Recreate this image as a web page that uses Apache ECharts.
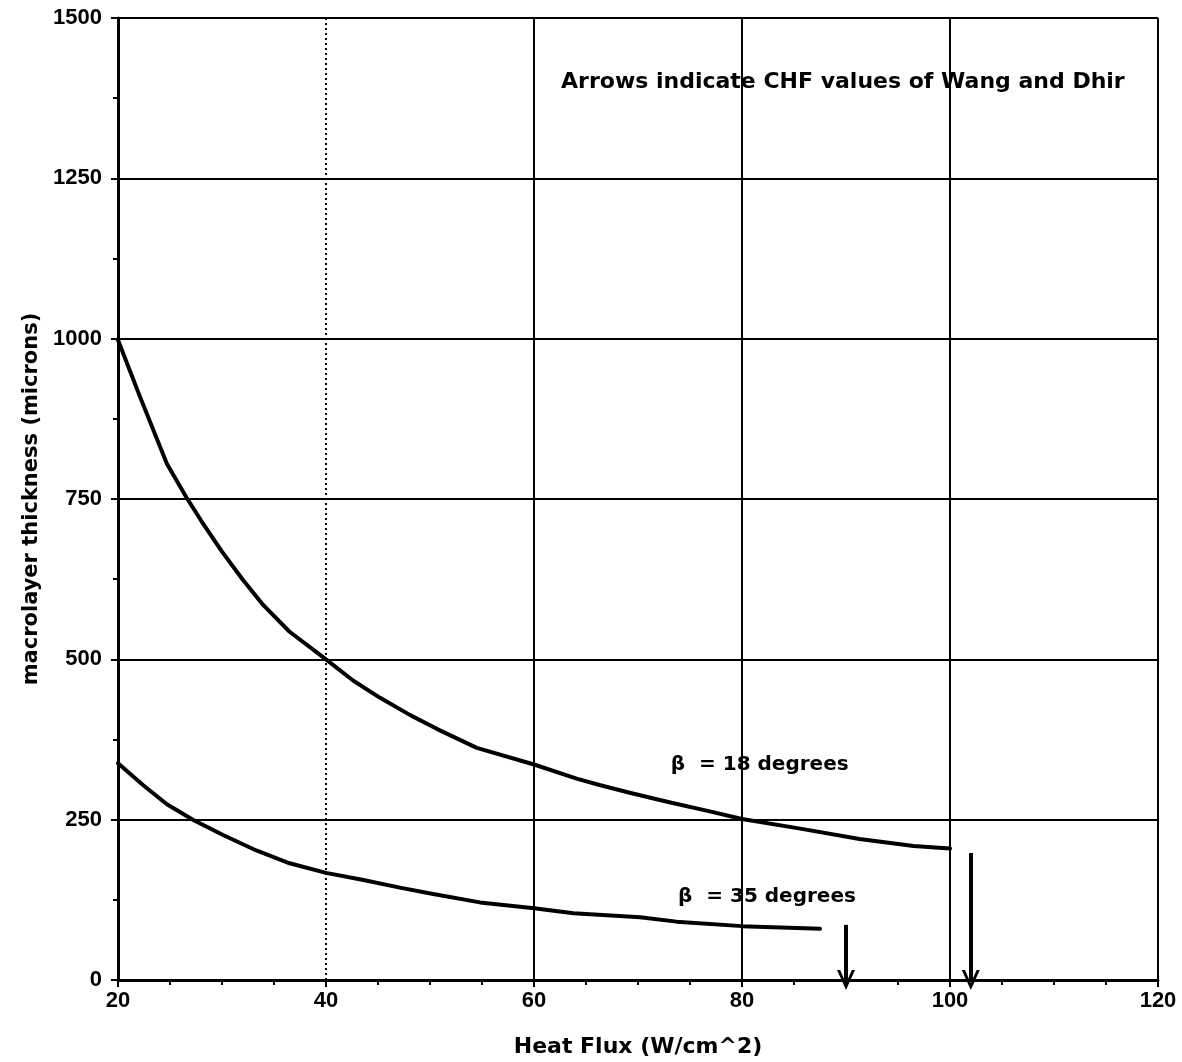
<!DOCTYPE html>
<html>
<head>
<meta charset="utf-8">
<script src="https://cdn.jsdelivr.net/npm/echarts@6/dist/echarts.min.js"></script>
<style>
html,body{margin:0;padding:0;background:#fff;}
#chart{width:1182px;height:1062px;}
</style>
</head>
<body>
<div id="chart"></div>
<script>
// ---- data ----
const beta18X = [20, 22.1, 24.7, 26.6, 28, 30, 32, 34, 36.5, 40, 42.6, 45.2, 48.1, 50.6, 54.5, 60, 64.1, 66.3, 69.2, 72.8, 76.9, 80, 85.6, 91.3, 96.5, 100];
const beta18Y = [998, 910, 805, 752, 716, 668, 624, 584, 543, 500, 467, 440, 413, 392, 362, 336, 314, 304, 292, 278, 263, 251, 236, 220, 209, 205];
const beta35X = [20, 22.4, 24.7, 27.2, 30.1, 33.3, 36.5, 40, 43.6, 47.1, 50.3, 54.8, 60, 63.8, 70.2, 73.7, 80, 87.5];
const beta35Y = [338, 304, 274, 250, 226, 202, 182, 167, 156, 144, 134, 121, 112, 104, 98, 91, 84, 80];
// CHF arrows of Wang and Dhir: [x, start y]
const arrowX = [90, 102];
const arrowTopY = [86, 198];
// vertical grid lines
const dottedGridX = [40];
const solidGridX = [60, 80, 100, 120];
const xTicks = { min: 20, max: 120, interval: 20 };
const yTicks = { min: 0, max: 1500, interval: 250 };
const labels = [
  { text: 'Arrows indicate CHF values of Wang and Dhir', x: 89.7, y: 1399, size: 22 },
  { text: '\u03b2  = 18 degrees', x: 81.7, y: 335, size: 20 },
  { text: '\u03b2  = 35 degrees', x: 82.4, y: 129, size: 20 }
];
const xName = 'Heat Flux (W/cm^2)';
const yName = 'macrolayer thickness (microns)';

const FONT = 'Liberation Sans';
const FONT2 = 'DejaVu Sans';
const zip = (xs, ys) => xs.map((x, i) => [x, ys[i]]);

const gridLines = [];
dottedGridX.forEach(x => gridLines.push({ xAxis: x, lineStyle: { type: [2, 3], width: 2, color: '#000' } }));
solidGridX.forEach(x => gridLines.push({ xAxis: x, lineStyle: { type: 'solid', width: 2, color: '#000' } }));

const arrowLines = arrowX.map((x, i) => [{ coord: [x, arrowTopY[i]] }, { coord: [x, 0] }]);

const chart = echarts.init(document.getElementById('chart'), null, { renderer: 'canvas' });
chart.setOption({
  animation: false,
  backgroundColor: '#fff',
  grid: { left: 118, right: 24, top: 18, bottom: 82, containLabel: false, outerBoundsMode: 'none' },
  xAxis: {
    type: 'value', min: xTicks.min, max: xTicks.max, interval: xTicks.interval,
    name: xName, nameLocation: 'middle', nameGap: 56,
    nameTextStyle: { fontFamily: FONT2, fontWeight: 'bold', fontSize: 22, color: '#000' },
    axisLine: { show: true, lineStyle: { color: '#000', width: 3 } },
    axisTick: { show: true, length: 7, lineStyle: { color: '#000', width: 2 } },
    minorTick: { show: true, splitNumber: 4, length: 5, lineStyle: { color: '#000', width: 2 } },
    splitLine: { show: false },
    axisLabel: { fontFamily: FONT, fontWeight: 'bold', fontSize: 22, color: '#000', margin: 10, formatter: v => String(v) }
  },
  yAxis: {
    type: 'value', min: yTicks.min, max: yTicks.max, interval: yTicks.interval,
    name: yName, nameLocation: 'middle', nameGap: 74, nameRotate: 90,
    nameTextStyle: { fontFamily: FONT2, fontWeight: 'bold', fontSize: 21, color: '#000' },
    axisLine: { show: true, lineStyle: { color: '#000', width: 3 } },
    axisTick: { show: true, length: 7, lineStyle: { color: '#000', width: 2 } },
    minorTick: { show: true, splitNumber: 2, length: 5, lineStyle: { color: '#000', width: 2 } },
    splitLine: { show: true, lineStyle: { color: '#000', width: 2 } },
    axisLabel: { fontFamily: FONT, fontWeight: 'bold', fontSize: 22, color: '#000', margin: 16, formatter: v => String(v) }
  },
  series: [
    {
      type: 'line', name: 'beta18', data: zip(beta18X, beta18Y), showSymbol: false, smooth: false,
      lineStyle: { color: '#000', width: 4, join: 'round', cap: 'round' }, z: 5,
      markLine: {
        silent: true, symbol: ['none', 'none'], label: { show: false },
        data: gridLines, z: 1
      },
      markPoint: {
        silent: true, symbol: 'circle', symbolSize: 0,
        label: { show: true, position: 'inside', fontFamily: FONT2, fontWeight: 'bold', fontSize: 20, color: '#000' },
        data: labels.map(l => ({ coord: [l.x, l.y], value: l.text, label: { formatter: l.text, fontSize: l.size } }))
      }
    },
    {
      type: 'line', name: 'beta35', data: zip(beta35X, beta35Y), showSymbol: false, smooth: false,
      lineStyle: { color: '#000', width: 4, join: 'round', cap: 'round' }, z: 5,
      markLine: {
        silent: true,
        symbol: ['none', 'path://M10,0 L20,16 L16.5,16 L10,5.5 L3.5,16 L0,16 Z'],
        symbolSize: [18, 20],
        label: { show: false },
        lineStyle: { color: '#000', width: 4, type: 'solid' },
        data: arrowLines
      }
    }
  ]
});
</script>
</body>
</html>
